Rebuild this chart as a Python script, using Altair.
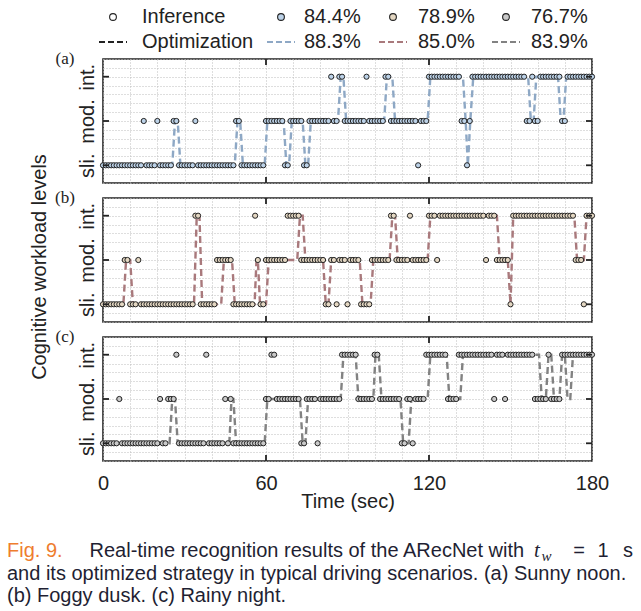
import altair as alt
import pandas as pd

SANS = "Liberation Sans"
SERIF = "Liberation Serif"
INK = "#222222"
GRID = "#bdbdbd"
CAPTION_INK = "#1f1f33"
CAPTION_ORANGE = "#ee7d2e"

# ---------------------------------------------------------------- data
LEVELS = ["sli.", "mod.", "int."]            # level 0, 1, 2
PANEL_TAGS = ["(a)", "(b)", "(c)"]
INF_ACC = ["84.4%", "78.9%", "76.7%"]
OPT_ACC = ["88.3%", "85.0%", "83.9%"]

# inference output (one point per second): runs of (first s, last s, level)
INF_A = [(0, 14, 0), (15, 15, 1), (16, 19, 0), (20, 20, 1), (21, 25, 0), (26, 27, 1),
         (28, 33, 0), (34, 34, 1), (35, 48, 0), (49, 50, 1), (51, 59, 0), (60, 66, 1),
         (67, 68, 0), (69, 73, 1), (74, 75, 0), (76, 83, 1), (84, 84, 2), (85, 86, 1),
         (87, 88, 2), (89, 96, 1), (97, 97, 2), (98, 103, 1), (104, 105, 2), (106, 115, 1),
         (116, 116, 0), (117, 119, 1), (120, 131, 2), (132, 133, 1), (134, 134, 0),
         (135, 135, 1), (136, 155, 2), (156, 157, 1), (158, 158, 2), (159, 160, 1),
         (161, 168, 2), (169, 170, 1), (171, 180, 2)]
INF_B = [(0, 7, 0), (8, 9, 1), (10, 12, 0), (13, 13, 1), (14, 33, 0), (34, 35, 2),
         (36, 41, 0), (42, 47, 1), (48, 55, 0), (56, 56, 2), (57, 57, 1), (58, 59, 0),
         (60, 67, 1), (68, 72, 2), (73, 81, 1), (82, 83, 0), (84, 85, 1), (86, 86, 0),
         (87, 89, 1), (90, 90, 0), (91, 94, 1), (95, 98, 0), (99, 105, 1), (106, 107, 2),
         (108, 112, 1), (113, 113, 2), (114, 119, 1), (120, 122, 2), (123, 123, 1),
         (124, 140, 2), (141, 141, 1), (142, 144, 2), (145, 149, 1), (150, 150, 0),
         (151, 173, 2), (174, 176, 1), (177, 177, 0), (178, 180, 2)]
INF_C = [(0, 5, 0), (6, 6, 1), (7, 20, 0), (21, 21, 1), (22, 23, 0), (24, 26, 1),
         (27, 27, 2), (28, 37, 0), (38, 38, 2), (39, 44, 0), (45, 45, 1), (46, 46, 0),
         (47, 47, 1), (48, 59, 0), (60, 61, 1), (62, 63, 2), (64, 72, 1), (73, 74, 0),
         (75, 78, 1), (79, 79, 0), (80, 87, 1), (88, 93, 2), (94, 99, 1), (100, 101, 2),
         (102, 109, 1), (110, 111, 0), (112, 113, 1), (114, 114, 0), (115, 118, 1),
         (119, 126, 2), (127, 130, 1), (131, 143, 2), (144, 144, 1), (145, 147, 2),
         (148, 148, 1), (149, 158, 2), (159, 163, 1), (164, 164, 2), (165, 168, 1),
         (169, 180, 2)]

# optimized strategy: vertices of the dashed path (time s, level)
OPT_A = [(0, 0), (25.5, 0), (26.5, 1), (27.5, 1), (28.5, 0), (48.5, 0), (49.5, 1),
         (50.5, 1), (51.5, 0), (59.5, 0), (60.5, 1), (66.5, 1), (67.5, 0), (68.5, 0),
         (69.5, 1), (73.5, 1), (74.5, 0), (75.5, 0), (76.5, 1), (86.5, 1), (87.5, 2),
         (88.5, 2), (89.5, 1), (103.5, 1), (104.5, 2), (106.5, 2), (107.5, 1), (119.5, 1),
         (120.5, 2), (132.5, 2), (133.5, 1), (134.3, 0), (135.2, 1), (136.3, 2),
         (156.5, 2), (157.5, 1), (158.5, 1), (159.5, 2), (167.5, 2), (168.5, 1),
         (169.5, 1), (170.5, 2), (180, 2)]
OPT_B = [(0, 0), (7.5, 0), (8.5, 1), (10, 1), (11, 0), (33.5, 0), (34.5, 2), (35.5, 2),
         (36.5, 0), (43.5, 0), (44.5, 1), (47.5, 1), (48.5, 0), (55.8, 0), (56.5, 1),
         (57, 1), (57.8, 0), (60, 0), (61, 1), (71.5, 1), (72.5, 2), (73.5, 2), (74.5, 1),
         (81, 1), (82, 0), (83, 0), (84, 1), (94.5, 1), (95.5, 0), (98.5, 0), (99.5, 1),
         (105.5, 1), (106.5, 2), (107.5, 2), (108.5, 1), (119.5, 1), (120.5, 2), (145, 2),
         (146, 1), (149, 1), (150, 0), (151, 2), (173.5, 2), (174.5, 1), (177, 1),
         (178, 2), (180, 2)]
OPT_C = [(0, 0), (24.5, 0), (25.5, 1), (26.5, 1), (27.5, 0), (46.5, 0), (47.3, 1),
         (48, 1), (49, 0), (59.5, 0), (60.5, 1), (72.5, 1), (73.5, 0), (74.5, 0),
         (75.5, 1), (87.5, 1), (88.5, 2), (93, 2), (94, 1), (99.5, 1), (100.3, 2),
         (101.5, 2), (102.5, 1), (109.5, 1), (110.5, 0), (112.5, 0), (113.5, 1),
         (119.5, 1), (120.5, 2), (126.5, 2), (127.5, 1), (131.5, 1), (132.5, 2),
         (160.5, 2), (161.5, 1), (163, 1), (164, 2), (165, 2), (166, 1), (168, 1),
         (169, 2), (170, 2), (171, 1), (172, 1), (173, 2), (180, 2)]

CAPTION_FIG = "Fig. 9."
CAPTION_L1 = "Real-time recognition results of the ARecNet with"
CAPTION_L2 = "and its optimized strategy in typical driving scenarios. (a) Sunny noon."
CAPTION_L3 = "(b) Foggy dusk. (c) Rainy night."

# ---------------------------------------------------------------- styles
FILLS = ["#bcd2e8", "#e4d7c2", "#c9c9c9"]
LINES = ["#8ea8c5", "#a9797c", "#828282"]
W, H = 489, 124
X_GRID = list(range(0, 181, 10))
Y_GRID = [round(-0.4 + 0.2 * i, 1) for i in range(15)]
FS = 20


def expand(runs):
    rows = []
    for first, last, lv in runs:
        for t in range(first, last + 1):
            rows.append({"t": t, "level": lv})
    return pd.DataFrame(rows)


LEVEL_EXPR = ("datum.value === 0 ? '%s' : datum.value === 1 ? '%s' : "
              "datum.value === 2 ? '%s' : ''" % tuple(LEVELS))


def panel(k, inf_runs, opt_pts, bottom, extra=None):
    inf = expand(inf_runs)
    opt = pd.DataFrame(opt_pts, columns=["t", "level"])
    opt["seq"] = range(len(opt))

    xs = alt.Scale(domain=[0, 180], nice=False, zero=False)
    ys = alt.Scale(domain=[-0.4, 2.4], nice=False, zero=False)
    xkw = dict(values=X_GRID, grid=True, gridDash=[1, 2], gridColor=GRID, gridWidth=1,
               ticks=False, domain=False, labelFlush=False, labelOverlap=False)
    if bottom:
        xkw.update(labels=True, labelExpr="datum.value % 60 === 0 ? datum.label : ''",
                   labelFont=SANS, labelFontSize=FS, labelColor=INK, labelPadding=12,
                   titleFont=SANS, titleFontSize=FS, titleFontWeight="normal",
                   titleColor=INK, titlePadding=-2)
        x_enc = alt.X("t:Q", scale=xs, axis=alt.Axis(**xkw), title="Time (sec)")
    else:
        xkw.update(labels=False)
        x_enc = alt.X("t:Q", scale=xs, axis=alt.Axis(**xkw), title=None)
    y_enc = alt.Y("level:Q", scale=ys, title=None,
                  axis=alt.Axis(values=Y_GRID, grid=True, gridDash=[1, 2], gridColor=GRID,
                                gridWidth=1, ticks=False, domain=False, labelExpr=LEVEL_EXPR,
                                labelAngle=270, labelAlign="center",
                                labelBaseline="alphabetic", labelPadding=10, labelFont=SANS,
                                labelFontSize=FS, labelColor=INK, labelOverlap=False))

    line = alt.Chart(opt).mark_line(color=LINES[k], strokeWidth=2.4, strokeDash=[7, 4]).encode(
        x=x_enc, y=y_enc, order="seq:Q")
    pts = alt.Chart(inf).mark_circle(fill=FILLS[k], stroke=INK, strokeWidth=1, size=27,
                                     opacity=1).encode(x=x_enc, y=y_enc)

    # inward ticks on all four sides of the frame
    xt = pd.DataFrame({"t": [60, 120]})
    yt = pd.DataFrame({"level": [0, 1, 2]})
    tick = dict(color=INK, strokeWidth=1.8)
    top = alt.Chart(xt).mark_rule(**tick).encode(x=x_enc, y=alt.value(0), y2=alt.value(6))
    bot = alt.Chart(xt).mark_rule(**tick).encode(x=x_enc, y=alt.value(H - 6), y2=alt.value(H))
    lft = alt.Chart(yt).mark_rule(**tick).encode(y=y_enc, x=alt.value(0), x2=alt.value(6))
    rgt = alt.Chart(yt).mark_rule(**tick).encode(y=y_enc, x=alt.value(W - 6), x2=alt.value(W))

    tag = alt.Chart(pd.DataFrame({"tag": [PANEL_TAGS[k]]})).mark_text(
        font=SERIF, fontSize=17, color=INK, align="center", baseline="middle").encode(
        text="tag:N", x=alt.value(-38), y=alt.value(0))

    layers = [line, pts, top, bot, lft, rgt, tag]
    if extra is not None:
        layers.append(extra)
    return alt.layer(*layers).properties(
        width=W, height=H, view=alt.ViewBackground(stroke=INK, strokeWidth=1.6))


ytitle = alt.Chart(pd.DataFrame({"txt": ["Cognitive workload levels"]})).mark_text(
    font=SANS, fontSize=FS, color=INK, angle=270, align="center", baseline="middle").encode(
    text="txt:N", x=alt.value(-63), y=alt.value(69))

pa = panel(0, INF_A, OPT_A, False)
pb = panel(1, INF_B, OPT_B, False, ytitle)
pc = panel(2, INF_C, OPT_C, True)

# ---------------------------------------------------------------- legend
SYM_X = [10, 178, 290, 403]
TXT_X = [39, 201, 315, 428]
ROW_Y = [17, 42]
leg_pts = pd.DataFrame({"cx": SYM_X, "fill": ["#ffffff"] + FILLS})
leg_lines = pd.DataFrame({"x1": [x - 14 for x in SYM_X], "x2": [x + 14 for x in SYM_X],
                          "color": [INK] + LINES})
leg_text = pd.DataFrame({
    "label": ["Inference"] + INF_ACC + ["Optimization"] + OPT_ACC,
    "tx": TXT_X * 2,
    "ty": [ROW_Y[0]] * 4 + [ROW_Y[1]] * 4,
})
px = lambda f: alt.X(f, scale=None, axis=None)
py = lambda f: alt.Y(f, scale=None, axis=None)
legend = alt.layer(
    alt.Chart(leg_pts).mark_circle(size=46, stroke=INK, strokeWidth=1.1, opacity=1).encode(
        x=px("cx:Q"), y=alt.value(ROW_Y[0]), fill=alt.Fill("fill:N", scale=None)),
    alt.Chart(leg_lines).mark_rule(strokeWidth=2.2, strokeDash=[6, 3]).encode(
        x=px("x1:Q"), x2="x2:Q", y=alt.value(ROW_Y[1]), color=alt.Color("color:N", scale=None)),
    alt.Chart(leg_text).mark_text(font=SANS, fontSize=FS, color=INK, align="left",
                                  baseline="middle").encode(
        x=px("tx:Q"), y=py("ty:Q"), text="label:N"),
).properties(width=W, height=43.5)

# ---------------------------------------------------------------- caption
CAP_Y = [75, 97.5, 120]
cap = pd.DataFrame({
    "txt": [CAPTION_FIG, CAPTION_L1, CAPTION_L2, CAPTION_L3],
    "x": [-96, -13.5, -96, -96],
    "y": [CAP_Y[0], CAP_Y[0], CAP_Y[1], CAP_Y[2]],
    "color": [CAPTION_ORANGE, CAPTION_INK, CAPTION_INK, CAPTION_INK],
})
math = pd.DataFrame({"txt": ["=", "1", "s"], "x": [476, 500, 525], "y": [CAP_Y[0]] * 3})
caption = alt.layer(
    alt.Chart(cap).mark_text(font=SANS, fontSize=FS, align="left", baseline="middle").encode(
        x=px("x:Q"), y=py("y:Q"), text="txt:N", color=alt.Color("color:N", scale=None)),
    alt.Chart(pd.DataFrame({"txt": ["t"]})).mark_text(
        font=SERIF, fontStyle="italic", fontSize=21, color=CAPTION_INK, align="left",
        baseline="middle").encode(text="txt:N", x=alt.value(431), y=alt.value(CAP_Y[0] - 0.5)),
    alt.Chart(pd.DataFrame({"txt": ["w"]})).mark_text(
        font=SERIF, fontStyle="italic", fontSize=15, color=CAPTION_INK, align="left",
        baseline="middle").encode(text="txt:N", x=alt.value(438.5), y=alt.value(CAP_Y[0] + 5)),
    alt.Chart(math).mark_text(font=SANS, fontSize=FS, color=CAPTION_INK, align="center",
                              baseline="middle").encode(
        x=px("x:Q"), y=py("y:Q"), text="txt:N"),
).properties(width=W, height=135)

chart = alt.vconcat(legend, pa, pb, pc, caption, spacing=15, bounds="flush").properties(
    padding={"left": 7, "top": 0, "right": 0, "bottom": 0}
).configure_view(stroke=None)

chart.save("out.html", embed_options={"renderer": "svg", "actions": False})
